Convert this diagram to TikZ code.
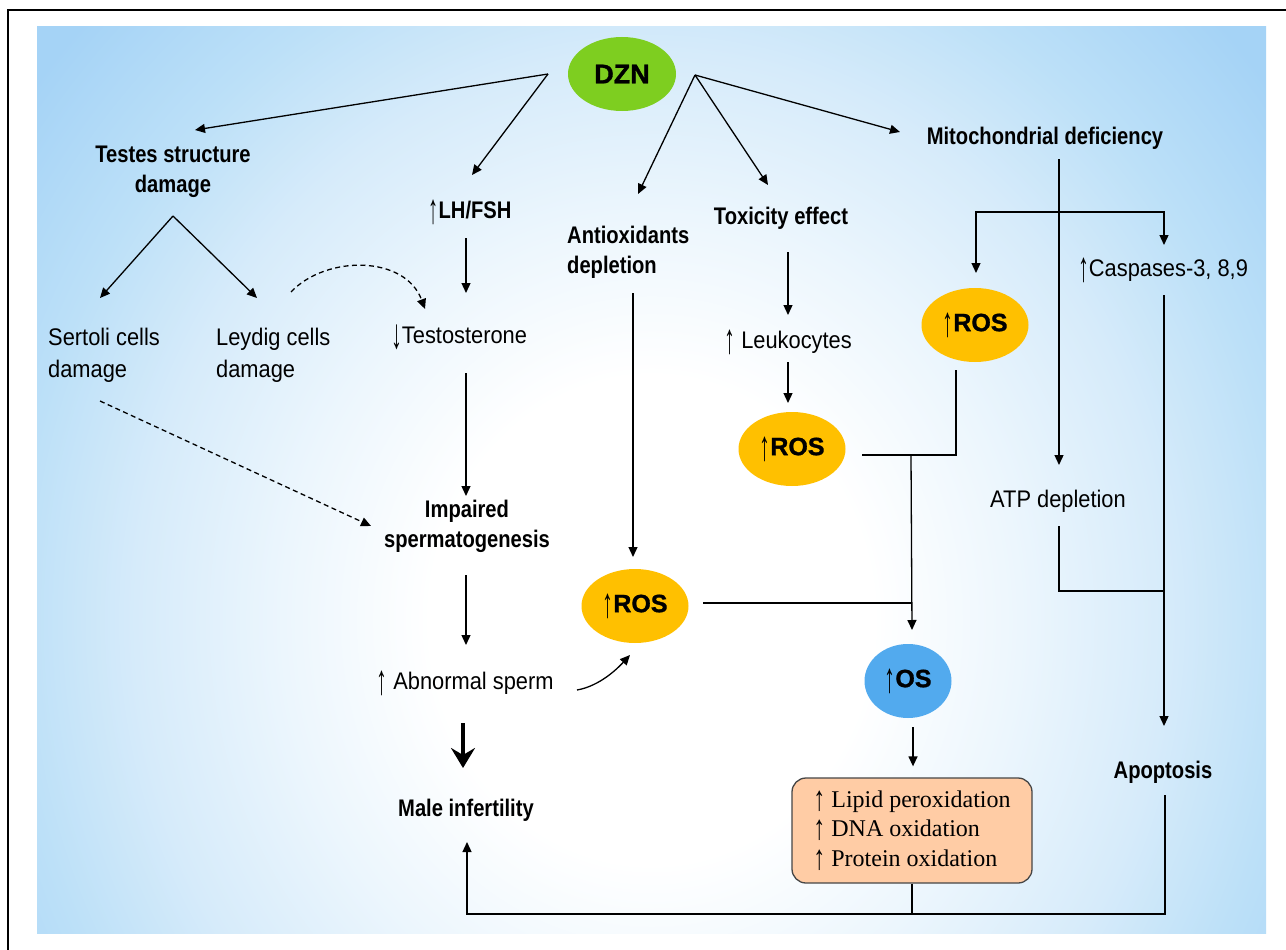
\documentclass[tikz,border=0pt]{standalone}
\usepackage{fontspec}
\usepackage{graphicx}
\setmainfont{Liberation Sans}[FakeStretch=0.91]
\newfontfamily\boldfam{Liberation Sans}[FakeStretch=0.84]
\newfontfamily\heavyfam{Liberation Sans}[FakeBold=1.2]
\newfontfamily\serifam{Liberation Serif}
\usetikzlibrary{arrows.meta,shapes.geometric,calc}
\definecolor{dzngreen}{RGB}{126,206,32}
\definecolor{rosorange}{RGB}{255,192,0}
\definecolor{osblue}{RGB}{82,170,238}
\definecolor{boxpeach}{RGB}{255,204,165}
\definecolor{boxline}{RGB}{70,70,70}
\definecolor{bgA}{RGB}{236,246,253}
\definecolor{bgB}{RGB}{214,235,250}
\definecolor{bgC}{RGB}{188,224,248}
\definecolor{bgD}{RGB}{165,211,246}
\pgfdeclareradialshading{bgshade}{\pgfpoint{0bp}{0bp}}{color(0bp)=(white); color(9bp)=(white); color(15bp)=(bgA); color(21bp)=(bgB); color(26bp)=(bgC); color(32bp)=(bgD); color(50bp)=(bgD)}
\newcommand{\tup}{\raisebox{-0.21em}{\scalebox{1}[1.75]{↑}}}
\newcommand{\tdown}{\raisebox{-0.21em}{\scalebox{1}[1.75]{↓}}}
\newcommand{\serup}{\raisebox{-0.14em}{\scalebox{1}[1.45]{↑}}}
\newcommand{\myup}[1]{{\fontsize{24}{24}\selectfont\tup}{\heavyfam\bfseries\fontsize{25}{25}\selectfont #1}}
\tikzset{
  lbl/.style={inner sep=0pt, font=\fontsize{24}{32}\selectfont, align=left},
  blbl/.style={inner sep=0pt, font=\boldfam\bfseries\fontsize{24}{30}\selectfont, align=center},
  ell/.style={ellipse, inner sep=0pt, minimum width=107pt, minimum height=74pt},
  conn/.style={line width=1.3pt},
  arr/.style={conn, -{Triangle[length=10pt,width=9pt]}},
  dsh/.style={arr, dash pattern=on 5pt off 3.5pt},
  bigarr/.style={line width=4.5pt, -{Stealth[length=20pt,width=24pt,inset=7pt]}}
}
\begin{document}
\begin{tikzpicture}[x=1pt,y=-1pt]
\useasboundingbox (0,0) rectangle (1286,950);
\fill[white] (0,0) rectangle (1286,950);
\begin{scope}
\clip (37,27) rectangle (1266,933);
\shade[shading=bgshade] (37,-55) rectangle (1266,1295);
\end{scope}
\draw[line width=2.5pt] (8,950) -- (8,10) -- (1286,10);

% ellipses
\node[ell, fill=dzngreen, minimum width=108pt] (dzn) at (622,74) {\heavyfam\bfseries\fontsize{27}{27}\selectfont DZN};
\node[ell, fill=rosorange] (ros1) at (635,606) {\myup{ROS}};
\node[ell, fill=rosorange] (ros2) at (792,449) {\myup{ROS}};
\node[ell, fill=rosorange] (ros3) at (975,325) {\myup{ROS}};
\node[ell, fill=osblue, minimum width=87pt] (os) at (908,681) {\myup{OS}};

% texts
\node[blbl] (testes) at (173,172) {Testes structure\\damage};
\node[lbl, anchor=west] (sertoli) at (48,355) {Sertoli cells\\damage};
\node[lbl, anchor=west] (leydig) at (216,355) {Leydig cells\\damage};
\node[blbl] (lh) at (470,212) {\tup LH/FSH};
\node[lbl] (testo) at (459,337) {\tdown Testosterone};
\node[blbl] (impaired) at (467,526) {Impaired\\spermatogenesis};
\node[lbl] (abnormal) at (465,683) {\tup\ Abnormal sperm};
\node[blbl] (male) at (466,810) {Male infertility};
\node[blbl, align=left, anchor=west] (antiox) at (567,252) {Antioxidants\\depletion};
\node[blbl] (tox) at (781,218) {Toxicity effect};
\node[lbl] (leuko) at (788,342) {\tup\ Leukocytes};
\node[blbl] (mito) at (1045,138) {Mitochondrial deficiency};
\node[lbl] (casp) at (1163,270) {\tup Caspases-3, 8,9};
\node[lbl] (atp) at (1058,501) {ATP depletion};
\node[blbl] (apop) at (1163,772) {Apoptosis};
\node[draw=boxline, fill=boxpeach, rounded corners=14pt, line width=1.3pt,
      minimum width=240pt, minimum height=105pt, inner sep=0pt, align=left,
      font=\serifam\fontsize{24}{29.5}\selectfont] (box) at (912,830.5)
      {\serup\ Lipid peroxidation\\\serup\ DNA oxidation\\\serup\ Protein oxidation};

% helper coordinates
\coordinate (dzL) at ([shift={(-74,0)}]dzn.center);
\coordinate (dzR) at ([shift={(73,1)}]dzn.center);
\coordinate (apex) at ([shift={(0,44)}]testes.center);
\coordinate (jB) at ([shift={(4,-78)}]os.center);
\coordinate (bl) at ([shift={(1,104)}]male.center);

% from DZN
\draw[arr] (dzL) -- ([shift={(22,-42)}]testes.center);
\draw[arr] (dzL) -- ([shift={(2,-37)}]lh.center);
\draw[arr] (dzR) -- ([shift={(71,-58)}]antiox.west);
\draw[arr] (dzR) -- ([shift={(-13,-33)}]tox.center);
\draw[arr] (dzR) -- ([shift={(-145,-6)}]mito.center);

% testes branch
\draw[arr] (apex) -- ([shift={(52,-57)}]sertoli.west);
\draw[arr] (apex) -- ([shift={(41,-57)}]leydig.west);
\draw[dsh] ([shift={(75,-63)}]leydig.west) .. controls +(35,-37) and +(-20,-54) .. ([shift={(-34,-28)}]testo.center);
\draw[dsh] ([shift={(52,46)}]sertoli.west) -- ([shift={(-96,0)}]impaired.center);

% left column
\draw[arr] ([shift={(-4,26)}]lh.center) -- ([shift={(7,-44)}]testo.center);
\draw[arr] ([shift={(7,36)}]testo.center) -- ([shift={(-1,-30)}]impaired.center);
\draw[arr] ([shift={(-1,49)}]impaired.center) -- ([shift={(1,-38)}]abnormal.center);
\draw[arr] ([shift={(112,7)}]abnormal.center) .. controls +(23,-4) and +(-12,13) .. ([shift={(-5,49)}]ros1.center);
\draw[bigarr] ([shift={(-3,-87)}]male.center) -- ([shift={(-3,-42)}]male.center);

% antioxidants / toxicity
\draw[arr] ([shift={(66,41)}]antiox.west) -- ([shift={(-2,-49)}]ros1.center);
\draw[arr] ([shift={(7,34)}]tox.center) -- ([shift={(0,-27)}]leuko.center);
\draw[arr] ([shift={(0,20)}]leuko.center) -- ([shift={(-4,-46)}]ros2.center);

% ROS to OS
\draw[conn] ([shift={(-19,45)}]ros3.center) |- ([shift={(70,6)}]ros2.center);
\draw[arr] ([shift={(119,6)}]ros2.center) -- ([shift={(4,-51)}]os.center);
\draw[conn] ([shift={(68,-3)}]ros1.center) -- (jB);
\draw[arr] ([shift={(5,46)}]os.center) -- ([shift={(1,-11)}]box.north);

% mitochondrial
\draw[arr] ([shift={(14,21)}]mito.center) -- ([shift={(1,-36)}]atp.center);
\draw[arr] ([shift={(14,74)}]mito.center) -| ([shift={(1,-52)}]ros3.center);
\draw[arr] ([shift={(14,74)}]mito.center) -| ([shift={(1,-25)}]casp.center);
\draw[arr] ([shift={(1,25)}]casp.center) -- ([shift={(1,-46)}]apop.center);
\draw[conn] ([shift={(1,25)}]atp.center) |- ([shift={(1,321)}]casp.center);

% bottom feedback
\draw[arr] ([shift={(2,23)}]apop.center) |- (bl) -- ([shift={(1,32)}]male.center);
\draw[conn] (box.south) -- (box.south |- bl);
\end{tikzpicture}
\end{document}
